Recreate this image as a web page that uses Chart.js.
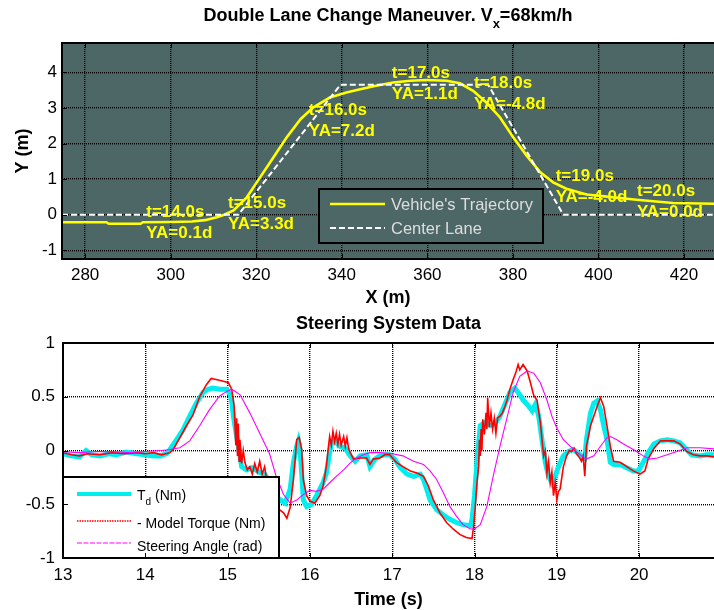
<!DOCTYPE html>
<html>
<head>
<meta charset="utf-8">
<script src="https://cdn.jsdelivr.net/npm/chart.js@4/dist/chart.umd.min.js"></script>
<style>
html,body{margin:0;padding:0;background:#fff;width:714px;height:610px;overflow:hidden;}
#c1{position:absolute;left:0;top:0;}
#c2{position:absolute;left:0;top:300px;}
</style>
</head>
<body>
<canvas id="c1" width="714" height="312"></canvas>
<canvas id="c2" width="714" height="320"></canvas>
<script>
// ================= DATA: top chart (double lane change) =================
const trajX = [274.6, 285, 285.5, 293, 293.5, 300, 305, 308, 310.8, 312.5, 314.7, 317.8, 320.9, 324, 327.1, 330.4, 333.3, 337.2, 341.1, 344.3, 348, 352, 356, 359.8, 364.5, 367.6, 370.7, 373.8, 377, 380.1, 383.2, 386.4, 389.4, 392.5, 397.2, 401.9, 408.9, 417.4, 427];
const trajY = [-0.21, -0.21, -0.25, -0.25, -0.21, -0.2, -0.19, -0.15, -0.07, 0.0, 0.12, 0.49, 1.05, 1.61, 2.17, 2.69, 3.01, 3.29, 3.43, 3.52, 3.62, 3.71, 3.76, 3.78, 3.76, 3.69, 3.48, 3.15, 2.73, 2.17, 1.66, 1.19, 0.91, 0.73, 0.57, 0.51, 0.42, 0.33, 0.31];
const laneX = [274.6, 315.8, 339.7, 374.2, 391.8, 427];
const laneY = [0, 0, 3.65, 3.65, 0, 0];
const annX = [294.3, 313.4, 332.3, 351.7, 370.9, 390.0, 409.0];
const annY = [0.06, 0.32, 2.92, 3.96, 3.68, 1.07, 0.65];
const annTime = [14, 15, 16, 17, 18, 19, 20];
const annYA = [0.1, 3.3, 7.2, 1.1, -4.8, -4.0, 0.0];
const xTicksTop = [280, 300, 320, 340, 360, 380, 400, 420];
const yTicksTop = [-1, 0, 1, 2, 3, 4];

// ================= DATA: bottom chart (steering system) =================
const tdT = [13.0, 13.1, 13.2, 13.28, 13.35, 13.45, 13.55, 13.65, 13.77, 13.9, 14.0, 14.1, 14.18, 14.26, 14.3, 14.38, 14.46, 14.54, 14.62, 14.7, 14.76, 14.82, 14.9, 14.99, 15.03, 15.05, 15.07, 15.11, 15.15, 15.17, 15.23, 15.3, 15.38, 15.45, 15.52, 15.58, 15.64, 15.7, 15.76, 15.8, 15.84, 15.86, 15.88, 15.9, 15.92, 15.96, 16.02, 16.08, 16.12, 16.16, 16.2, 16.24, 16.26, 16.3, 16.36, 16.43, 16.49, 16.55, 16.61, 16.69, 16.73, 16.79, 16.85, 16.91, 16.97, 17.03, 17.09, 17.18, 17.26, 17.34, 17.38, 17.42, 17.46, 17.54, 17.62, 17.7, 17.78, 17.86, 17.95, 17.97, 18.0, 18.03, 18.07, 18.13, 18.19, 18.25, 18.31, 18.37, 18.43, 18.49, 18.53, 18.59, 18.66, 18.7, 18.74, 18.78, 18.82, 18.86, 18.9, 18.94, 18.98, 19.02, 19.08, 19.14, 19.2, 19.28, 19.34, 19.36, 19.41, 19.45, 19.49, 19.53, 19.57, 19.61, 19.65, 19.69, 19.77, 19.85, 19.93, 19.99, 20.05, 20.11, 20.18, 20.26, 20.34, 20.42, 20.5, 20.56, 20.64, 20.74, 20.82, 20.92];
const tdV = [-0.03, -0.05, -0.06, 0.0, -0.04, -0.05, -0.03, -0.04, -0.015, -0.03, -0.04, -0.05, -0.05, -0.03, 0.01, 0.1, 0.195, 0.32, 0.44, 0.54, 0.57, 0.58, 0.57, 0.57, 0.52, 0.46, 0.32, 0.13, -0.05, -0.15, -0.18, -0.16, -0.2, -0.22, -0.3, -0.42, -0.46, -0.49, -0.36, -0.11, 0.04, 0.09, 0.01, -0.21, -0.46, -0.52, -0.5, -0.42, -0.36, -0.3, -0.21, -0.02, 0.07, 0.09, 0.04, 0.02, -0.05, -0.1, -0.05, -0.04, -0.15, -0.08, -0.05, -0.04, -0.04, -0.08, -0.15, -0.22, -0.24, -0.22, -0.27, -0.36, -0.46, -0.55, -0.6, -0.64, -0.67, -0.69, -0.7, -0.64, -0.42, -0.1, 0.23, 0.26, 0.23, 0.25, 0.32, 0.43, 0.54, 0.58, 0.54, 0.47, 0.41, 0.37, 0.43, 0.32, 0.1, -0.11, -0.24, -0.3, -0.24, -0.15, -0.05, -0.01, 0.01, -0.04, -0.07, 0.1, 0.35, 0.44, 0.46, 0.38, 0.23, 0.1, -0.11, -0.13, -0.13, -0.16, -0.19, -0.19, -0.11, -0.02, 0.06, 0.09, 0.1, 0.09, 0.07, 0.02, -0.04, -0.05, -0.04, -0.04];

const mtT = [13.0, 13.1, 13.2, 13.3, 13.45, 13.6, 13.75, 13.9, 14.0, 14.1, 14.2, 14.3, 14.34, 14.42, 14.5, 14.58, 14.66, 14.74, 14.8, 14.86, 14.95, 15.01, 15.05, 15.08, 15.1, 15.11, 15.12, 15.13, 15.14, 15.15, 15.17, 15.19, 15.21, 15.24, 15.27, 15.3, 15.33, 15.36, 15.39, 15.42, 15.45, 15.48, 15.52, 15.57, 15.63, 15.68, 15.72, 15.76, 15.8, 15.84, 15.87, 15.9, 15.92, 15.96, 16.0, 16.06, 16.12, 16.16, 16.2, 16.22, 16.24, 16.26, 16.28, 16.3, 16.32, 16.34, 16.36, 16.38, 16.41, 16.43, 16.45, 16.47, 16.49, 16.53, 16.61, 16.69, 16.73, 16.77, 16.85, 16.91, 16.97, 17.05, 17.13, 17.22, 17.3, 17.38, 17.44, 17.5, 17.58, 17.66, 17.74, 17.82, 17.9, 17.97, 17.99, 18.01, 18.03, 18.05, 18.06, 18.07, 18.08, 18.09, 18.1, 18.12, 18.14, 18.15, 18.16, 18.18, 18.2, 18.22, 18.24, 18.26, 18.28, 18.31, 18.34, 18.37, 18.4, 18.43, 18.47, 18.5, 18.53, 18.55, 18.59, 18.64, 18.68, 18.72, 18.76, 18.8, 18.84, 18.86, 18.88, 18.9, 18.92, 18.94, 18.96, 18.98, 19.0, 19.02, 19.04, 19.08, 19.12, 19.15, 19.18, 19.21, 19.24, 19.27, 19.3, 19.32, 19.34, 19.36, 19.41, 19.45, 19.49, 19.53, 19.57, 19.61, 19.65, 19.69, 19.77, 19.85, 19.93, 20.01, 20.07, 20.11, 20.18, 20.26, 20.34, 20.42, 20.5, 20.58, 20.66, 20.74, 20.82, 20.92];
const mtV = [-0.02, -0.04, -0.05, -0.03, -0.04, -0.02, -0.03, -0.02, -0.03, -0.02, -0.04, -0.02, 0.01, 0.12, 0.23, 0.33, 0.5, 0.61, 0.67, 0.66, 0.645, 0.63, 0.57, 0.41, 0.05, 0.3, -0.05, 0.25, -0.1, 0.1, -0.12, 0.0, -0.11, -0.18, -0.15, -0.22, -0.12, -0.2, -0.1, -0.22, -0.15, -0.3, -0.4, -0.5, -0.55, -0.58, -0.63, -0.53, -0.27, 0.1, 0.12, 0.01, -0.27, -0.42, -0.47, -0.49, -0.42, -0.33, -0.15, 0.0, 0.13, 0.05, 0.18, 0.08, 0.16, 0.06, 0.15, 0.05, 0.13, 0.04, 0.12, 0.02, -0.02, -0.08, -0.07, -0.07, -0.13, -0.08, -0.07, -0.04, -0.04, -0.11, -0.15, -0.19, -0.21, -0.24, -0.33, -0.46, -0.58, -0.67, -0.73, -0.78, -0.81, -0.82, -0.7, -0.52, -0.3, -0.15, 0.1, -0.05, 0.2, 0.0, 0.29, 0.15, 0.35, 0.2, 0.49, 0.22, 0.35, 0.2, 0.3, 0.16, 0.3, 0.32, 0.35, 0.41, 0.48, 0.57, 0.66, 0.72, 0.8, 0.75, 0.8, 0.74, 0.63, 0.51, 0.47, 0.26, -0.05, 0.0, -0.21, -0.1, -0.3, -0.2, -0.42, -0.3, -0.46, -0.38, -0.36, -0.15, -0.05, 0.0, -0.01, 0.02, -0.03, -0.06, -0.1, -0.05, -0.24, 0.04, 0.23, 0.32, 0.41, 0.49, 0.41, 0.23, 0.04, -0.1, -0.11, -0.15, -0.19, -0.22, -0.19, -0.08, 0.02, 0.09, 0.09, 0.09, 0.06, -0.01, -0.04, -0.05, -0.05, -0.06];

const saT = [13.0, 13.2, 13.4, 13.6, 13.8, 14.0, 14.2, 14.3, 14.42, 14.54, 14.66, 14.78, 14.9, 14.99, 15.05, 15.15, 15.27, 15.39, 15.51, 15.59, 15.68, 15.76, 15.84, 15.92, 16.0, 16.08, 16.16, 16.24, 16.32, 16.41, 16.49, 16.57, 16.65, 16.73, 16.85, 17.0, 17.13, 17.26, 17.38, 17.46, 17.54, 17.62, 17.7, 17.78, 17.86, 17.95, 18.0, 18.07, 18.15, 18.23, 18.31, 18.39, 18.47, 18.55, 18.64, 18.72, 18.8, 18.88, 18.94, 19.0, 19.08, 19.16, 19.24, 19.3, 19.36, 19.45, 19.53, 19.61, 19.65, 19.73, 19.81, 19.93, 20.05, 20.13, 20.22, 20.34, 20.46, 20.58, 20.74, 20.92];
const saV = [-0.01, -0.02, -0.01, -0.01, -0.02, -0.01, 0.0, 0.01, 0.025, 0.09, 0.23, 0.38, 0.505, 0.55, 0.57, 0.52, 0.35, 0.16, -0.03, -0.24, -0.41, -0.49, -0.46, -0.41, -0.37, -0.38, -0.36, -0.3, -0.24, -0.18, -0.115, -0.07, -0.04, -0.02, -0.02, -0.03, -0.05, -0.1, -0.13, -0.19, -0.27, -0.39, -0.52, -0.61, -0.69, -0.73, -0.73, -0.69, -0.52, -0.23, 0.04, 0.29, 0.54, 0.69, 0.74, 0.72, 0.63, 0.47, 0.32, 0.21, 0.1, 0.04, -0.01, -0.05, -0.08, -0.05, 0.04, 0.12, 0.13, 0.1, 0.06, 0.01, -0.05, -0.08, -0.07, -0.04, -0.01, 0.025, 0.025, 0.015];
const xTicksBot = [13, 14, 15, 16, 17, 18, 19, 20];
const yTicksBot = [-1, -0.5, 0, 0.5, 1];

// ================= helpers =================
const FONT = "'Liberation Sans', Arial, Helvetica, sans-serif";
Chart.defaults.font.family = FONT;
Chart.defaults.color = '#000';
const pts = (xs, ys) => xs.map((x, i) => ({x: x, y: ys[i]}));
const setTicks = vals => scale => { scale.ticks = vals.map(v => ({value: v})); };
const plainLabel = v => String(v);
const GRID = {color: '#000', lineWidth: 1.4, drawTicks: false};
const BORDER = {display: false, dash: [1, 1]};

function frame(chart, tickLen) {
  const {ctx, chartArea: a, scales} = chart;
  ctx.save();
  ctx.strokeStyle = '#000';
  ctx.lineWidth = 1;
  scales.x.ticks.forEach(t => {
    const p = Math.round(scales.x.getPixelForValue(t.value)) + 0.5;
    ctx.beginPath(); ctx.moveTo(p, a.bottom); ctx.lineTo(p, a.bottom - tickLen);
    ctx.moveTo(p, a.top); ctx.lineTo(p, a.top + tickLen); ctx.stroke();
  });
  scales.y.ticks.forEach(t => {
    const p = Math.round(scales.y.getPixelForValue(t.value)) + 0.5;
    ctx.beginPath(); ctx.moveTo(a.left, p); ctx.lineTo(a.left + tickLen, p); ctx.stroke();
  });
  ctx.lineWidth = 2;
  ctx.beginPath();
  ctx.moveTo(a.right + 2, a.top); ctx.lineTo(a.left, a.top);
  ctx.lineTo(a.left, a.bottom); ctx.lineTo(a.right + 2, a.bottom);
  ctx.stroke();
  ctx.restore();
}

// ================= top chart =================
const BG = 'rgb(77,102,102)';
const topPlugin = {
  id: 'topPlugin',
  beforeDraw(chart) {
    const {ctx, chartArea: a} = chart;
    ctx.save();
    ctx.fillStyle = BG;
    ctx.fillRect(a.left, a.top, a.right - a.left, a.bottom - a.top);
    ctx.restore();
  },
  afterDatasetsDraw(chart) {
    const {ctx, scales} = chart;
    ctx.save();
    // annotations
    ctx.font = 'bold 17px ' + FONT;
    ctx.fillStyle = '#ffff00';
    ctx.textAlign = 'left';
    ctx.textBaseline = 'middle';
    annX.forEach((x, i) => {
      const px = scales.x.getPixelForValue(x);
      const py = scales.y.getPixelForValue(annY[i]);
      ctx.fillText('t=' + annTime[i].toFixed(1) + 's', px, py);
      ctx.fillText('YA=' + annYA[i].toFixed(1) + 'd', px, py + 21);
    });
    // legend
    const L = 319, T = 189, W = 224, H = 54;
    ctx.fillStyle = BG;
    ctx.fillRect(L, T, W, H);
    ctx.strokeStyle = '#000';
    ctx.lineWidth = 2;
    ctx.strokeRect(L, T, W, H);
    ctx.lineWidth = 2.6;
    ctx.strokeStyle = '#ffff00';
    ctx.beginPath(); ctx.moveTo(330, 204); ctx.lineTo(385, 204); ctx.stroke();
    ctx.lineWidth = 2;
    ctx.strokeStyle = '#ffffff';
    ctx.setLineDash([6, 3]);
    ctx.beginPath(); ctx.moveTo(330, 228); ctx.lineTo(385, 228); ctx.stroke();
    ctx.setLineDash([]);
    ctx.font = '16.5px ' + FONT;
    ctx.fillStyle = '#dedede';
    ctx.fillText("Vehicle's Trajectory", 391, 205);
    ctx.fillText('Center Lane', 391, 229);
    ctx.restore();
  },
  afterDraw(chart) {
    frame(chart, 5);
    const {ctx, chartArea: a} = chart;
    ctx.save();
    ctx.fillStyle = '#000';
    ctx.textBaseline = 'alphabetic';
    ctx.textAlign = 'left';
    const big = 'bold 18px ' + FONT, small = 'bold 13px ' + FONT;
    const p1 = 'Double Lane Change Maneuver. V', p2 = 'x', p3 = '=68km/h';
    ctx.font = big; const w1 = ctx.measureText(p1).width, w3 = ctx.measureText(p3).width;
    ctx.font = small; const w2 = ctx.measureText(p2).width;
    let x = (a.left + a.right) / 2 - (w1 + w2 + w3) / 2;
    const base = 21;
    ctx.font = big; ctx.fillText(p1, x, base); x += w1;
    ctx.font = small; ctx.fillText(p2, x, base + 7); x += w2;
    ctx.font = big; ctx.fillText(p3, x, base);
    ctx.restore();
  }
};

new Chart(document.getElementById('c1'), {
  type: 'scatter',
  data: {
    datasets: [
      {label: "Vehicle's Trajectory", data: pts(trajX, trajY), showLine: true, borderColor: '#ffff00', borderWidth: 2.6, pointRadius: 0, tension: 0, order: 2},
      {label: 'Center Lane', data: pts(laneX, laneY), showLine: true, borderColor: '#ffffff', borderWidth: 2, borderDash: [6, 3], pointRadius: 0, tension: 0, order: 1}
    ]
  },
  options: {
    responsive: false, animation: false, devicePixelRatio: 1,
    layout: {padding: {top: 43, left: 0, right: 0, bottom: 0}},
    plugins: {legend: {display: false}, tooltip: {enabled: false}, title: {display: false}},
    scales: {
      x: {
        type: 'linear', min: 274.6, max: 427,
        afterBuildTicks: setTicks(xTicksTop),
        afterFit: s => { s.height = 53; },
        grid: GRID, border: BORDER,
        ticks: {font: {size: 17}, color: '#000', padding: 6.5, autoSkip: false, maxRotation: 0, callback: plainLabel},
        title: {display: true, text: 'X (m)', font: {size: 18, weight: 'bold'}, color: '#000', padding: {top: 0, bottom: 3.2}}
      },
      y: {
        type: 'linear', min: -1.24, max: 4.82,
        afterBuildTicks: setTicks(yTicksTop),
        afterFit: s => { s.width = 62; },
        grid: GRID, border: BORDER,
        ticks: {font: {size: 17}, color: '#000', padding: 5, autoSkip: false, callback: plainLabel},
        title: {display: true, text: 'Y (m)', font: {size: 18, weight: 'bold'}, color: '#000', padding: {top: 12.2, bottom: 0}}
      }
    }
  },
  plugins: [topPlugin]
});

// ================= bottom chart =================
const CYAN = 'rgb(0,238,238)';
const botPlugin = {
  id: 'botPlugin',
  afterDatasetsDraw(chart) {
    const {ctx} = chart;
    ctx.save();
    const L = 63, T = 177, W = 216, H = 81;
    ctx.fillStyle = '#fff';
    ctx.fillRect(L, T, W, H);
    ctx.strokeStyle = '#000';
    ctx.lineWidth = 2;
    ctx.strokeRect(L, T, W, H);
    // samples
    ctx.lineWidth = 4;
    ctx.strokeStyle = CYAN;
    ctx.beginPath(); ctx.moveTo(77, 194); ctx.lineTo(131, 194); ctx.stroke();
    ctx.lineWidth = 1.5;
    ctx.strokeStyle = '#ff0000';
    ctx.setLineDash([1.5, 1]);
    ctx.beginPath(); ctx.moveTo(77, 221); ctx.lineTo(131, 221); ctx.stroke();
    ctx.lineWidth = 1.2;
    ctx.strokeStyle = '#ff00ff';
    ctx.setLineDash([5, 1.5]);
    ctx.beginPath(); ctx.moveTo(77, 243); ctx.lineTo(131, 243); ctx.stroke();
    ctx.setLineDash([]);
    // labels
    ctx.fillStyle = '#000';
    ctx.textAlign = 'left';
    ctx.textBaseline = 'alphabetic';
    ctx.font = '14px ' + FONT;
    let x = 137;
    ctx.fillText('T', x, 200); x += ctx.measureText('T').width;
    ctx.font = '10px ' + FONT;
    ctx.fillText('d', x, 205); x += ctx.measureText('d').width;
    ctx.font = '14px ' + FONT;
    ctx.fillText(' (Nm)', x, 200);
    ctx.fillText('- Model Torque (Nm)', 137, 228);
    ctx.fillText('Steering Angle (rad)', 137, 251);
    ctx.restore();
  },
  afterDraw(chart) { frame(chart, 5); }
};

new Chart(document.getElementById('c2'), {
  type: 'scatter',
  data: {
    datasets: [
      {label: 'T_d (Nm)', data: pts(tdT, tdV), showLine: true, borderColor: CYAN, borderWidth: 5, pointRadius: 0, tension: 0, order: 3},
      {label: '- Model Torque (Nm)', data: pts(mtT, mtV), showLine: true, borderColor: '#ff0000', borderWidth: 1.6, pointRadius: 0, tension: 0, order: 2},
      {label: 'Steering Angle (rad)', data: pts(saT, saV), showLine: true, borderColor: '#ff00ff', borderWidth: 1.1, pointRadius: 0, tension: 0, order: 1}
    ]
  },
  options: {
    responsive: false, animation: false, devicePixelRatio: 1,
    layout: {padding: 0},
    plugins: {
      legend: {display: false}, tooltip: {enabled: false},
      title: {display: true, text: 'Steering System Data', fullSize: false, color: '#000', font: {size: 18, weight: 'bold'}, padding: {top: 13.2, bottom: 8.2}}
    },
    scales: {
      x: {
        type: 'linear', min: 13, max: 20.91,
        afterBuildTicks: setTicks(xTicksBot),
        afterFit: s => { s.height = 62; },
        grid: GRID, border: BORDER,
        ticks: {font: {size: 17}, color: '#000', padding: 6.8, autoSkip: false, maxRotation: 0, callback: plainLabel},
        title: {display: true, text: 'Time (s)', font: {size: 18, weight: 'bold'}, color: '#000', padding: {top: 0, bottom: 9.2}}
      },
      y: {
        type: 'linear', min: -1, max: 1,
        afterBuildTicks: setTicks(yTicksBot),
        afterFit: s => { s.width = 63; },
        grid: GRID, border: BORDER,
        ticks: {font: {size: 17}, color: '#000', padding: 8, autoSkip: false, callback: plainLabel}
      }
    }
  },
  plugins: [botPlugin]
});
</script>
</body>
</html>
